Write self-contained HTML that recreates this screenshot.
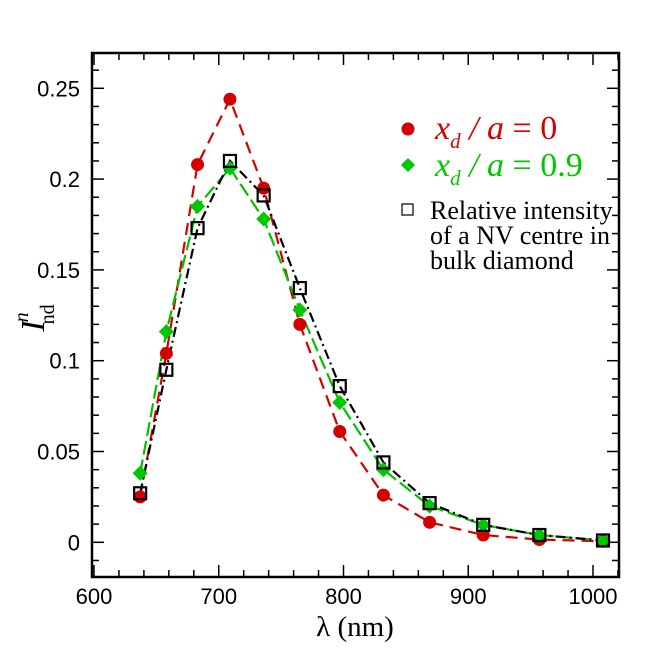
<!DOCTYPE html>
<html><head><meta charset="utf-8"><style>
body{margin:0;background:#fff;width:651px;height:651px;overflow:hidden}
svg{display:block}
.tk{font-family:"Liberation Sans",sans-serif;font-size:22px;fill:#000}
</style></head><body>
<svg id="chart" width="651" height="651" xmlns="http://www.w3.org/2000/svg"></svg>
<script>
const wavelengths=[637,658,683,709,736,765,797,832,869,912,957,1008];
const red=[0.025,0.104,0.208,0.244,0.195,0.120,0.061,0.026,0.011,0.004,0.0015,0.0006];
const green=[0.038,0.116,0.185,0.206,0.178,0.128,0.077,0.040,0.020,0.0096,0.004,0.001];
const black=[0.027,0.095,0.173,0.210,0.191,0.140,0.086,0.044,0.0216,0.0096,0.004,0.001];
const xTicks=[600,700,800,900,1000];
const yTicks=[0,0.05,0.1,0.15,0.2,0.25];
const yTickLabels=["0","0.05","0.1","0.15","0.2","0.25"];
const L=92,R=619,T=53,B=577;
function X(v){return 94+(v-600)*1.2475;}
function Y(v){return 542.3-v*1816;}
const svg=document.getElementById('chart');
const NS='http://www.w3.org/2000/svg';
function mk(tag,attrs,parent){const e=document.createElementNS(NS,tag);for(const k in attrs)e.setAttribute(k,attrs[k]);(parent||svg).appendChild(e);return e;}
let e;
for(let v=600;v<=1020;v+=20){const x=X(v);const major=v%100===0;const len=major?12:7;
 e=mk('line',{x1:x,y1:B,x2:x,y2:B-len,stroke:'#000','stroke-width':1.5});
 
 e=mk('line',{x1:x,y1:T,x2:x,y2:T+len,stroke:'#000','stroke-width':1.5});
 }
for(let i=-2;i<=27;i++){const v=i/100;const y=Y(v);if(y>B||y<T)continue;const major=i%5===0;const len=major?12:7;
 e=mk('line',{x1:L,y1:y,x2:L+len,y2:y,stroke:'#000','stroke-width':1.5});
 
 e=mk('line',{x1:R,y1:y,x2:R-len,y2:y,stroke:'#000','stroke-width':1.5});
 }
xTicks.forEach(v=>{e=mk('text',{x:X(v),y:604,'text-anchor':'middle',class:'tk'});e.textContent=v;
 });
yTicks.forEach((v,i)=>{e=mk('text',{x:80,y:Y(v)+8,'text-anchor':'end',class:'tk'});e.textContent=yTickLabels[i];
 });
function pts(arr){return wavelengths.map((w,i)=>X(w)+','+Y(arr[i])).join(' ');}
e=mk('polyline',{points:pts(red),fill:'none',stroke:'#d40000','stroke-width':2.2,'stroke-dasharray':'12,7'});

e=mk('polyline',{points:pts(green),fill:'none',stroke:'#00c000','stroke-width':2.2,'stroke-dasharray':'14,5'});

e=mk('polyline',{points:pts(black),fill:'none',stroke:'#000','stroke-width':2.2,'stroke-dasharray':'10,4,2,4'});

wavelengths.forEach((w,i)=>{e=mk('circle',{cx:X(w),cy:Y(red[i]),r:6.5,fill:'#d40000'});
 });
wavelengths.forEach((w,i)=>{const x=X(w),y=Y(green[i]);e=mk('polygon',{points:`${x},${y-7.5} ${x+7.5},${y} ${x},${y+7.5} ${x-7.5},${y}`,fill:'#00c800'});
 });
wavelengths.forEach((w,i)=>{e=mk('rect',{x:X(w)-6,y:Y(black[i])-6,width:12,height:12,fill:'none',stroke:'#000','stroke-width':2.2});
 });
e=mk('rect',{x:L,y:T,width:R-L,height:B-T,fill:'none',stroke:'#000','stroke-width':2.5});

</script>
<svg style="position:absolute;left:0;top:0" width="651" height="651" xmlns="http://www.w3.org/2000/svg">
<defs><clipPath id="c"><rect x="92" y="53" width="526" height="524"/></clipPath></defs>
<g clip-path="url(#c)">
<circle cx="408" cy="129" r="6.5" fill="#d40000"/>
<text x="435" y="139" font-family="Liberation Serif,serif" font-size="34" fill="#d40000"><tspan font-style="italic">x</tspan><tspan font-style="italic" font-size="21" dy="9">d</tspan><tspan dy="-9" font-style="italic"> / a</tspan> = 0</text>
<polygon points="408,158 415,165 408,172 401,165" fill="#00c800"/>
<text x="435" y="176" font-family="Liberation Serif,serif" font-size="34" fill="#00c800"><tspan font-style="italic">x</tspan><tspan font-style="italic" font-size="21" dy="9">d</tspan><tspan dy="-9" font-style="italic"> / a</tspan> = 0.9</text>
<rect x="402" y="204" width="11" height="11" fill="none" stroke="#000" stroke-width="1.2"/>
<text font-family="Liberation Serif,serif" font-size="26" fill="#000"><tspan x="430" y="219">Relative intensity</tspan><tspan x="430" y="244">of a NV centre in</tspan><tspan x="430" y="269">bulk diamond</tspan></text>
</g>
<text x="355" y="636" text-anchor="middle" font-family="Liberation Serif,serif" font-size="29">λ (nm)</text>
<g transform="translate(44,318) rotate(-90)">
<text text-anchor="middle" font-family="Liberation Serif,serif" font-size="34"><tspan font-style="italic">I</tspan><tspan font-size="20" dy="-16" dx="-2" font-style="italic">n</tspan><tspan font-size="20" dy="26" dx="-12">nd</tspan></text>
</g>
</svg>
</body></html>
